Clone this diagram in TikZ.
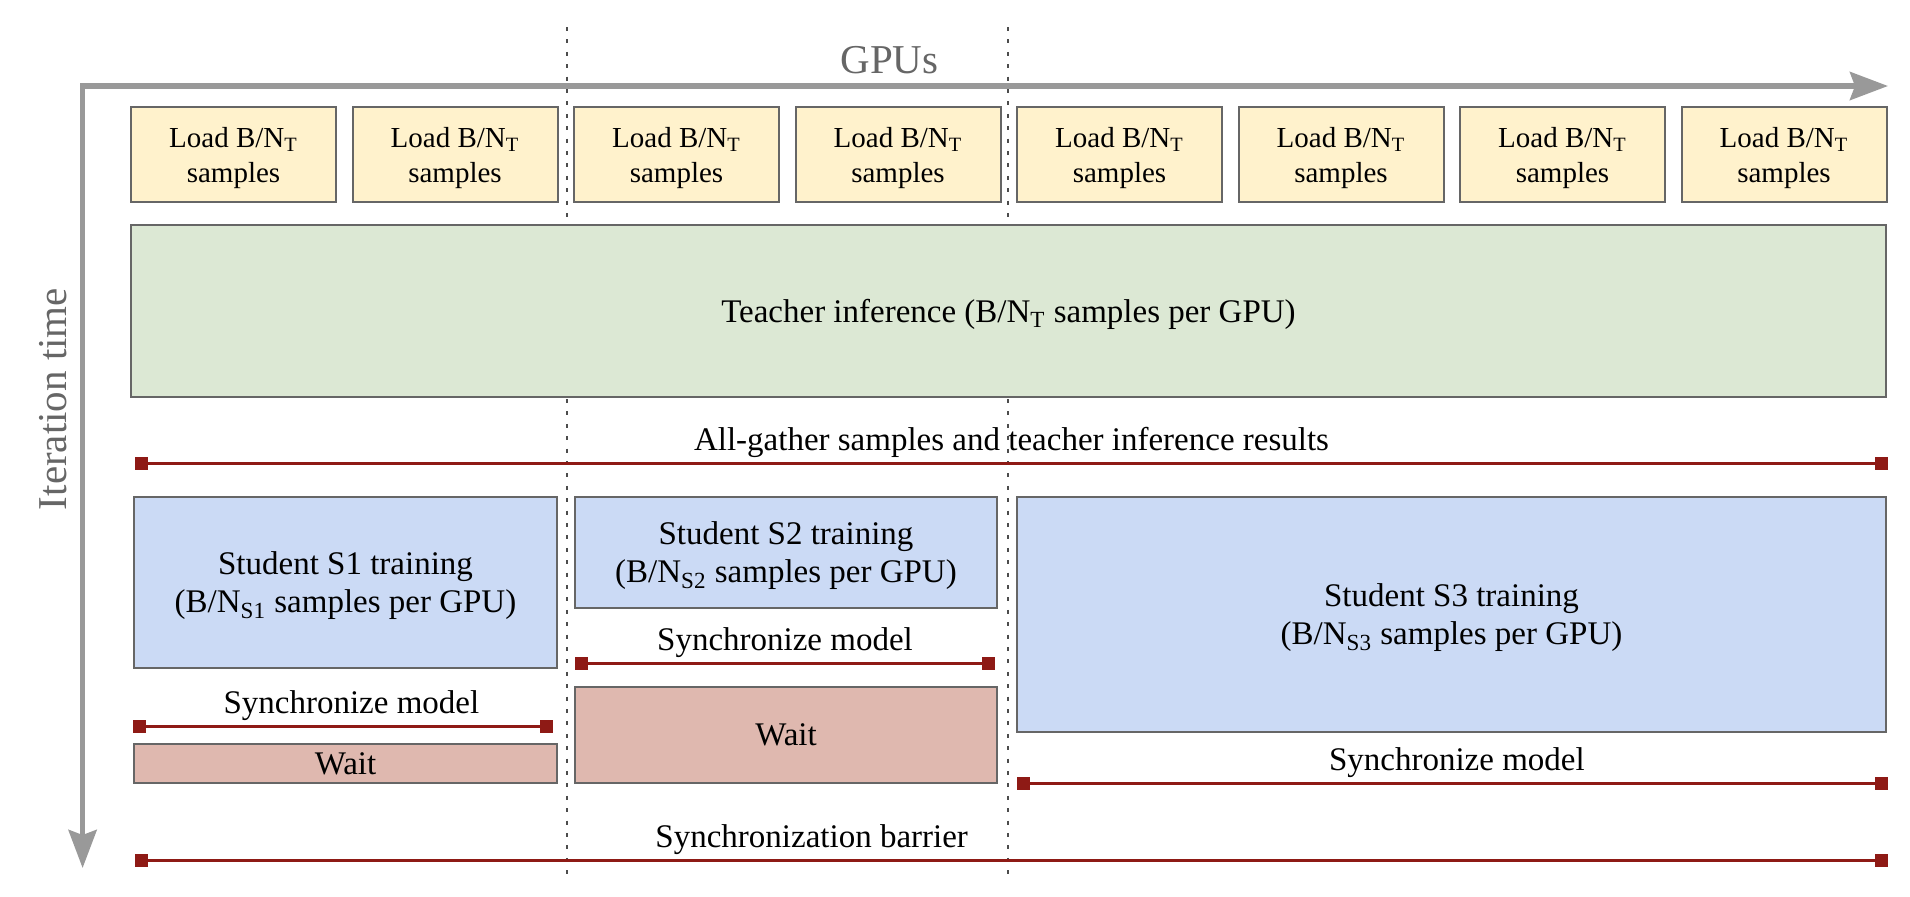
\documentclass[tikz,border=0pt]{standalone}
\usepackage{fontspec}
\setmainfont{Liberation Serif}
\usetikzlibrary{arrows.meta}

\definecolor{loadyellow}{HTML}{FFF2CC}
\definecolor{teachergreen}{HTML}{DCE8D4}
\definecolor{studentblue}{HTML}{CBDAF5}
\definecolor{waitred}{HTML}{DFB8AF}
\definecolor{syncred}{HTML}{8E1A15}
\definecolor{boxgray}{HTML}{666666}
\definecolor{axisgray}{HTML}{999999}
\definecolor{labelgray}{HTML}{666666}

\tikzset{
  task/.style={draw=boxgray, line width=1pt, inner sep=0pt, align=center, text depth=0pt,
    font=\fontsize{16.5}{19}\selectfont},
  loadbox/.style={task, fill=loadyellow, minimum width=102.5pt, minimum height=47.5pt,
    font=\fontsize{14.5}{17.5}\selectfont},
  axis/.style={draw=axisgray, line width=2.75pt},
  axislabel/.style={text=labelgray, inner sep=0pt, font=\fontsize{20.5}{24}\selectfont},
  sync/.style={draw=syncred, line width=1.5pt,
    {Square[length=6.5pt,width=6.5pt]}-{Square[length=6.5pt,width=6.5pt]}},
  synclabel/.style={anchor=base, yshift=6.5pt, inner sep=0pt, text=black,
    font=\fontsize{16.5}{19}\selectfont},
  divider/.style={draw=black!70, line width=1.2pt, dash pattern=on 2pt off 4.2pt}
}

\begin{document}
\begin{tikzpicture}[x=0.5pt, y=-0.5pt]
  \useasboundingbox (0,0) rectangle (1910,896);
  % dotted borders between the GPU groups
  \coordinate (div1-t) at (567,27);
  \coordinate (div1-b) at (567,877);
  \coordinate (div2-t) at (1008,27);
  \coordinate (div2-b) at (1008,877);
  \path[divider] (div1-t) -- (div1-b);
  \path[divider] (div2-t) -- (div2-b);

  % axes
  \coordinate (origin) at (82.6,86);
  \coordinate (gpu-end) at (1888,86);
  \coordinate (time-end) at (82.6,868);
  \path[axis, {Stealth[length=19pt,width=14pt,inset=2.5pt]}-{Stealth[length=19pt,width=14pt,inset=2.5pt]}]
    (time-end) |- (gpu-end);
  \node[axislabel] (gpus) at (889.5,60) {GPUs};
  \node[axislabel, rotate=90] (itertime) at (53,399) {Iteration time};

  % loading on every GPU
  \node[loadbox] (load1) at (233.5,154.5) {Load B/N\textsubscript{T}\\samples};
  \node[loadbox] (load2) at (455,154.5) {Load B/N\textsubscript{T}\\samples};
  \node[loadbox] (load3) at (676.5,154.5) {Load B/N\textsubscript{T}\\samples};
  \node[loadbox] (load4) at (898,154.5) {Load B/N\textsubscript{T}\\samples};
  \node[loadbox] (load5) at (1119.5,154.5) {Load B/N\textsubscript{T}\\samples};
  \node[loadbox] (load6) at (1341,154.5) {Load B/N\textsubscript{T}\\samples};
  \node[loadbox] (load7) at (1562.5,154.5) {Load B/N\textsubscript{T}\\samples};
  \node[loadbox] (load8) at (1784,154.5) {Load B/N\textsubscript{T}\\samples};

  \node[task, fill=teachergreen, minimum width=877.5pt, minimum height=86pt] (teacher)
    at (1008.5,311) {Teacher inference (B/N\textsubscript{T} samples per GPU)};

  \coordinate (gather-l) at (135,463);
  \coordinate (gather-r) at (1888,463);
  \path[sync] (gather-l) -- (gather-r)
    node[synclabel, midway] (gatherlabel) {All-gather samples and teacher inference results};

  % students
  \node[task, fill=studentblue, minimum width=211.5pt, minimum height=85.5pt] (s1)
    at (345.5,582.5) {Student S1 training\\(B/N\textsubscript{S1} samples per GPU)};
  \node[task, fill=studentblue, minimum width=211.25pt, minimum height=55.5pt] (s2)
    at (786,552.5) {Student S2 training\\(B/N\textsubscript{S2} samples per GPU)};
  \node[task, fill=studentblue, minimum width=434.5pt, minimum height=117.5pt] (s3)
    at (1451.5,614.5) {Student S3 training\\(B/N\textsubscript{S3} samples per GPU)};

  \coordinate (sync1-l) at (133,726);
  \coordinate (sync1-r) at (553,726);
  \path[sync] (sync1-l) -- (sync1-r) node[synclabel, pos=0.52] (sync1label) {Synchronize model};
  \coordinate (sync2-l) at (575,663);
  \coordinate (sync2-r) at (995,663);
  \path[sync] (sync2-l) -- (sync2-r) node[synclabel, midway] (sync2label) {Synchronize model};
  \coordinate (sync3-l) at (1017,783);
  \coordinate (sync3-r) at (1888,783);
  \path[sync] (sync3-l) -- (sync3-r) node[synclabel, pos=0.505] (sync3label) {Synchronize model};

  \node[task, fill=waitred, minimum width=211.5pt, minimum height=19.5pt] (wait1)
    at (345.5,763.5) {Wait};
  \node[task, fill=waitred, minimum width=211.25pt, minimum height=48pt] (wait2)
    at (786,735) {Wait};

  \coordinate (barrier-l) at (135,860);
  \coordinate (barrier-r) at (1888,860);
  \path[sync] (barrier-l) -- (barrier-r)
    node[synclabel, pos=0.386] (barrierlabel) {Synchronization barrier};
\end{tikzpicture}
\end{document}
